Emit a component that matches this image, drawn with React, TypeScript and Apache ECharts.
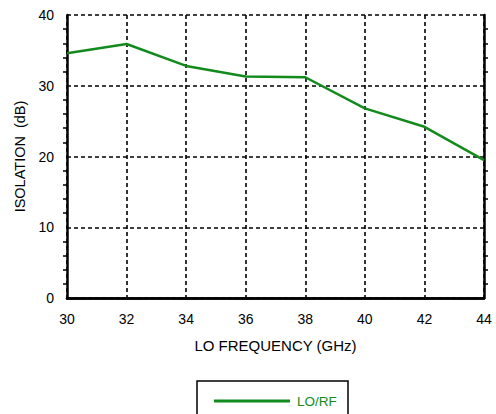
import React, { useEffect, useRef } from "react";
import * as echarts from "echarts";

const frequencies = [30, 32, 34, 36, 38, 40, 42, 44];
const isolation = [34.6, 35.9, 32.8, 31.3, 31.2, 26.8, 24.2, 19.5];
const seriesName = "LO/RF";
const xTitle = "LO FREQUENCY (GHz)";
const yTitle = "ISOLATION  (dB)";

const GREEN = "#138a1c";
const FONT = "Liberation Sans, Arial, Helvetica, sans-serif";

export default function App() {
  const ref = useRef<HTMLDivElement>(null);
  useEffect(() => {
    if (!ref.current) return;
    const chart = echarts.init(ref.current, null, { renderer: "svg" });
    const dashed = { type: [4, 3] as any, color: "#000", width: 1.6 };
    chart.setOption({
      animation: false,
      textStyle: { fontFamily: FONT },
      grid: { left: 67, right: 12, top: 15, bottom: 116 },
      xAxis: [
        {
          type: "value",
          min: 30,
          max: 44,
          interval: 2,
          name: xTitle,
          nameLocation: "middle",
          nameGap: 40,
          nameTextStyle: { fontSize: 15, color: "#000", fontFamily: FONT },
          axisLine: { show: true, lineStyle: { color: "#000", width: 2.5 } },
          axisTick: { show: false },
          axisLabel: { fontSize: 14, color: "#000", margin: 14, fontFamily: FONT },
          splitLine: { show: true, lineStyle: dashed },
        },
        {
          type: "value",
          position: "top",
          min: 30,
          max: 44,
          interval: 2,
          axisLine: { show: true, lineStyle: { color: "#000", width: 2.5 } },
          axisTick: { show: false },
          axisLabel: { show: false },
          splitLine: { show: false },
        },
      ],
      yAxis: [
        {
          type: "value",
          min: 0,
          max: 40,
          interval: 10,
          name: yTitle,
          nameLocation: "middle",
          nameGap: 32,
          nameTextStyle: { fontSize: 14.5, color: "#000", fontFamily: FONT },
          axisLine: { show: true, lineStyle: { color: "#000", width: 2.5 } },
          axisTick: { show: false },
          minorTick: { show: true, splitNumber: 5, length: 4, lineStyle: { color: "#000", width: 1.5 } },
          axisLabel: { fontSize: 14, color: "#000", margin: 13, fontFamily: FONT },
          splitLine: { show: true, lineStyle: dashed },
        },
        {
          type: "value",
          position: "right",
          min: 0,
          max: 40,
          interval: 10,
          axisLine: { show: true, lineStyle: { color: "#000", width: 2.5 } },
          axisTick: { show: false },
          minorTick: { show: true, splitNumber: 5, length: 4, lineStyle: { color: "#000", width: 1.5 } },
          axisLabel: { show: false },
          splitLine: { show: false },
        },
      ],
      legend: {
        left: 214,
        top: 394,
        icon: "rect",
        itemWidth: 76,
        itemHeight: 3,
        itemGap: 0,
        padding: 0,
        textStyle: { color: GREEN, fontSize: 13.5, fontFamily: FONT, padding: [0, 0, 0, 2] },
        data: [seriesName],
      },
      graphic: [
        {
          type: "rect",
          shape: { x: 197, y: 381, width: 151, height: 60 },
          style: { fill: "none", stroke: "#000", lineWidth: 1.5 },
          z: 10,
        },
      ],
      series: [
        {
          name: seriesName,
          type: "line",
          data: frequencies.map((f, i) => [f, isolation[i]]),
          symbol: "none",
          lineStyle: { color: GREEN, width: 2.5 },
          itemStyle: { color: GREEN },
          z: 5,
        },
      ],
    });
    return () => chart.dispose();
  }, []);
  return (
    <div
      ref={ref}
      style={{ position: "absolute", left: 0, top: 0, width: 496, height: 414 }}
    />
  );
}
